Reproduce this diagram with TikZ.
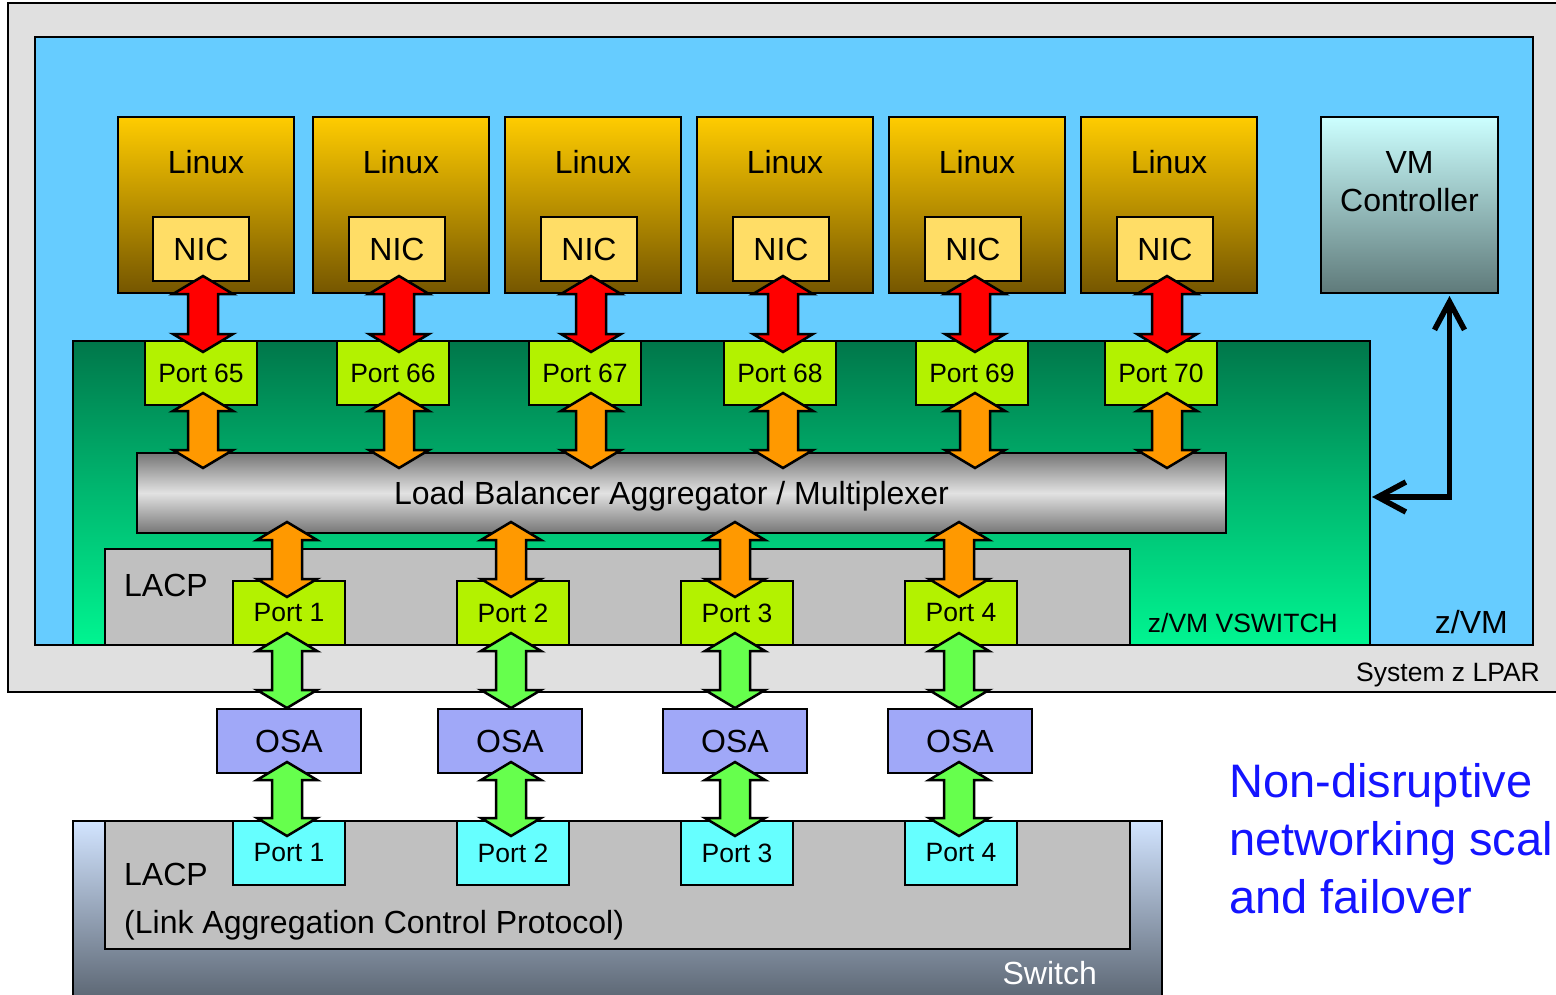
\documentclass[tikz,border=0pt]{standalone}
\usepackage{fontspec}
\setmainfont{Liberation Sans}
\usetikzlibrary{calc,arrows.meta}

\definecolor{lparbg}{RGB}{224,224,224}
\definecolor{zvmbg}{RGB}{102,204,255}
\definecolor{vswtop}{RGB}{0,119,74}
\definecolor{vswmid}{RGB}{0,184,112}
\definecolor{vswbot}{RGB}{0,245,145}
\definecolor{linuxtop}{RGB}{255,204,0}
\definecolor{linuxbot}{RGB}{117,86,0}
\definecolor{nicfill}{RGB}{255,221,102}
\definecolor{vmctop}{RGB}{204,255,255}
\definecolor{vmcbot}{RGB}{95,122,122}
\definecolor{portfill}{RGB}{179,242,0}
\definecolor{lacpfill}{RGB}{192,192,192}
\definecolor{osafill}{RGB}{160,168,248}
\definecolor{swportfill}{RGB}{102,255,255}
\definecolor{swtop}{RGB}{210,228,255}
\definecolor{swbot}{RGB}{84,94,106}
\definecolor{lbdark}{RGB}{118,118,118}
\definecolor{lblight}{RGB}{226,226,226}
\definecolor{arrred}{RGB}{255,0,0}
\definecolor{arrorange}{RGB}{255,153,0}
\definecolor{arrgreen}{RGB}{102,255,77}
\definecolor{noteblue}{RGB}{20,20,255}

% double block arrow: fill, upper tip, lower tip (x from the upper tip)
\newcommand{\dblarrow}[3]{%
  \filldraw[fill=#1,draw=black,line width=2.5pt,line join=miter] let \p1=#2, \p2=#3 in
    (\x1,\y1) -- (\x1+30pt,\y1-18pt) -- (\x1+15pt,\y1-18pt) -- (\x1+15pt,\y2+18pt)
    -- (\x1+30pt,\y2+18pt) -- (\x1,\y2) -- (\x1-30pt,\y2+18pt) -- (\x1-15pt,\y2+18pt)
    -- (\x1-15pt,\y1-18pt) -- (\x1-30pt,\y1-18pt) -- cycle;}

\begin{document}
\begin{tikzpicture}[x=1pt,y=-1pt,
  box/.style={draw=black,line width=2.5pt,inner sep=0pt,outer sep=0pt,anchor=north west},
  linuxbox/.style={box,top color=linuxtop,bottom color=linuxbot,minimum width=176pt,minimum height=176pt},
  nicbox/.style={box,fill=nicfill,minimum width=96pt,minimum height=64pt,font=\fontsize{32}{38}\selectfont},
  portbox/.style={box,fill=portfill,minimum width=112pt,minimum height=64pt,font=\fontsize{26.5}{31}\selectfont},
  swportbox/.style={portbox,fill=swportfill},
  osabox/.style={box,fill=osafill,minimum width=144pt,minimum height=64pt,font=\fontsize{32}{38}\selectfont},
  lacpbox/.style={box,fill=lacpfill,minimum width=1025pt},
  bigtxt/.style={font=\fontsize{32}{38}\selectfont},
  smalltxt/.style={font=\fontsize{26.5}{31}\selectfont},
  lbl/.style={inner sep=0pt}]

\useasboundingbox (0,0) rectangle (1556,995);
\clip (0,0) rectangle (1556,995);

% System z LPAR, z/VM and VSWITCH
\node[box,fill=lparbg,minimum width=1580pt,minimum height=689pt] (lpar) at (8,3) {};
\node[box,fill=zvmbg,minimum width=1498pt,minimum height=608pt] (zvm) at (35,37) {};
\node[box,top color=vswtop,bottom color=vswbot,middle color=vswmid,minimum width=1297pt,minimum height=304pt] (vsw) at (73,341) {};

% Linux guests with NIC and VSWITCH port
\foreach \i/\lx/\nx/\px/\n in {1/118/153/145/65,2/313/349/337/66,3/505/541/529/67,
                                4/697/733/724/68,5/889/925/916/69,6/1081/1117/1105/70}{
  \node[linuxbox,label={[bigtxt,anchor=center,yshift=-45pt]north:Linux}] (lin\i) at (\lx,117) {};
  \node[nicbox] (nic\i) at (\nx,217) {NIC};
  \node[portbox] (vp\i) at (\px,341) {Port \n};
}

% VM Controller
\node[box,top color=vmctop,bottom color=vmcbot,minimum width=177pt,minimum height=176pt,
      label={[bigtxt,align=center,anchor=center,yshift=-65pt]north:VM\\Controller}] (vmc) at (1321,117) {};

% Load balancer
\node[box,top color=lbdark,bottom color=lbdark,middle color=lblight,minimum width=1089pt,minimum height=80pt,
      bigtxt,text depth=0pt] (lb) at (137,453) {Load Balancer Aggregator / Multiplexer\hspace*{20pt}};

% LACP in the VSWITCH
\node[lacpbox,minimum height=96pt] (lacp) at (105,549) {};
\foreach \i/\x in {1/233,2/457,3/681,4/905}
  \node[portbox] (lp\i) at (\x,581) {Port \i};

% OSA cards
\foreach \i/\x in {1/217,2/438,3/663,4/888}
  \node[osabox] (osa\i) at (\x,709) {OSA};

% Switch
\node[box,top color=swtop,bottom color=swbot,minimum width=1089pt,minimum height=190pt] (sw) at (73,821) {};
\node[lacpbox,minimum height=128pt] (swlacp) at (105,821) {};
\foreach \i/\x in {1/233,2/457,3/681,4/905}
  \node[swportbox] (sp\i) at (\x,821) {Port \i};

% block arrows
\foreach \i in {1,...,6}{
  \dblarrow{arrred}{($(nic\i.south)+(2,-5)$)}{($(vp\i.north)+(0,11)$)}
  \dblarrow{arrorange}{($(nic\i.south |- vp\i.south)+(2,-12)$)}{($(lb.north)+(0,15)$)}
}
\foreach \i in {1,...,4}{
  \dblarrow{arrorange}{($(lp\i.north |- lb.south)+(-2,-11)$)}{($(lp\i.north)+(0,16)$)}
  \dblarrow{arrgreen}{($(lp\i.south)+(-2,-12)$)}{($(osa\i.north)+(0,-1)$)}
  \dblarrow{arrgreen}{($(sp\i.north |- osa\i.south)+(-2,-11)$)}{($(sp\i.north)+(0,15)$)}
}

% VM Controller to VSWITCH
\draw[line width=5.5pt,line cap=round,
      {Straight Barb[length=28pt,width=30pt]}-{Straight Barb[length=28pt,width=30pt]}]
  ($(vsw.east)+(2,4)$) -| ($(vmc.south)+(40,3)$);

% labels
\node[lbl,smalltxt,anchor=base east] (lparlbl) at (1540,681) {System z LPAR};
\node[lbl,bigtxt,anchor=base east] (zvmlbl) at (1508,633) {z/VM};
\node[lbl,smalltxt,anchor=base east] (vswlbl) at (1338,632) {z/VM VSWITCH};
\node[lbl,bigtxt,anchor=base west] (lacplbl) at (124,596) {LACP};
\node[lbl,bigtxt,anchor=base west] (swlacplbl) at (124,885) {LACP};
\node[lbl,bigtxt,anchor=base west] (swlacpfull) at (124,933) {(Link Aggregation Control Protocol)};
\node[lbl,bigtxt,text=white,anchor=base east] (swlbl) at (1097,984) {Switch};

% note
\node[lbl,font=\fontsize{47}{58}\selectfont,text=noteblue,align=left,anchor=base west] (note)
  at (1229,913) {Non-disruptive\\networking scal\\and failover};

\end{tikzpicture}
\end{document}
